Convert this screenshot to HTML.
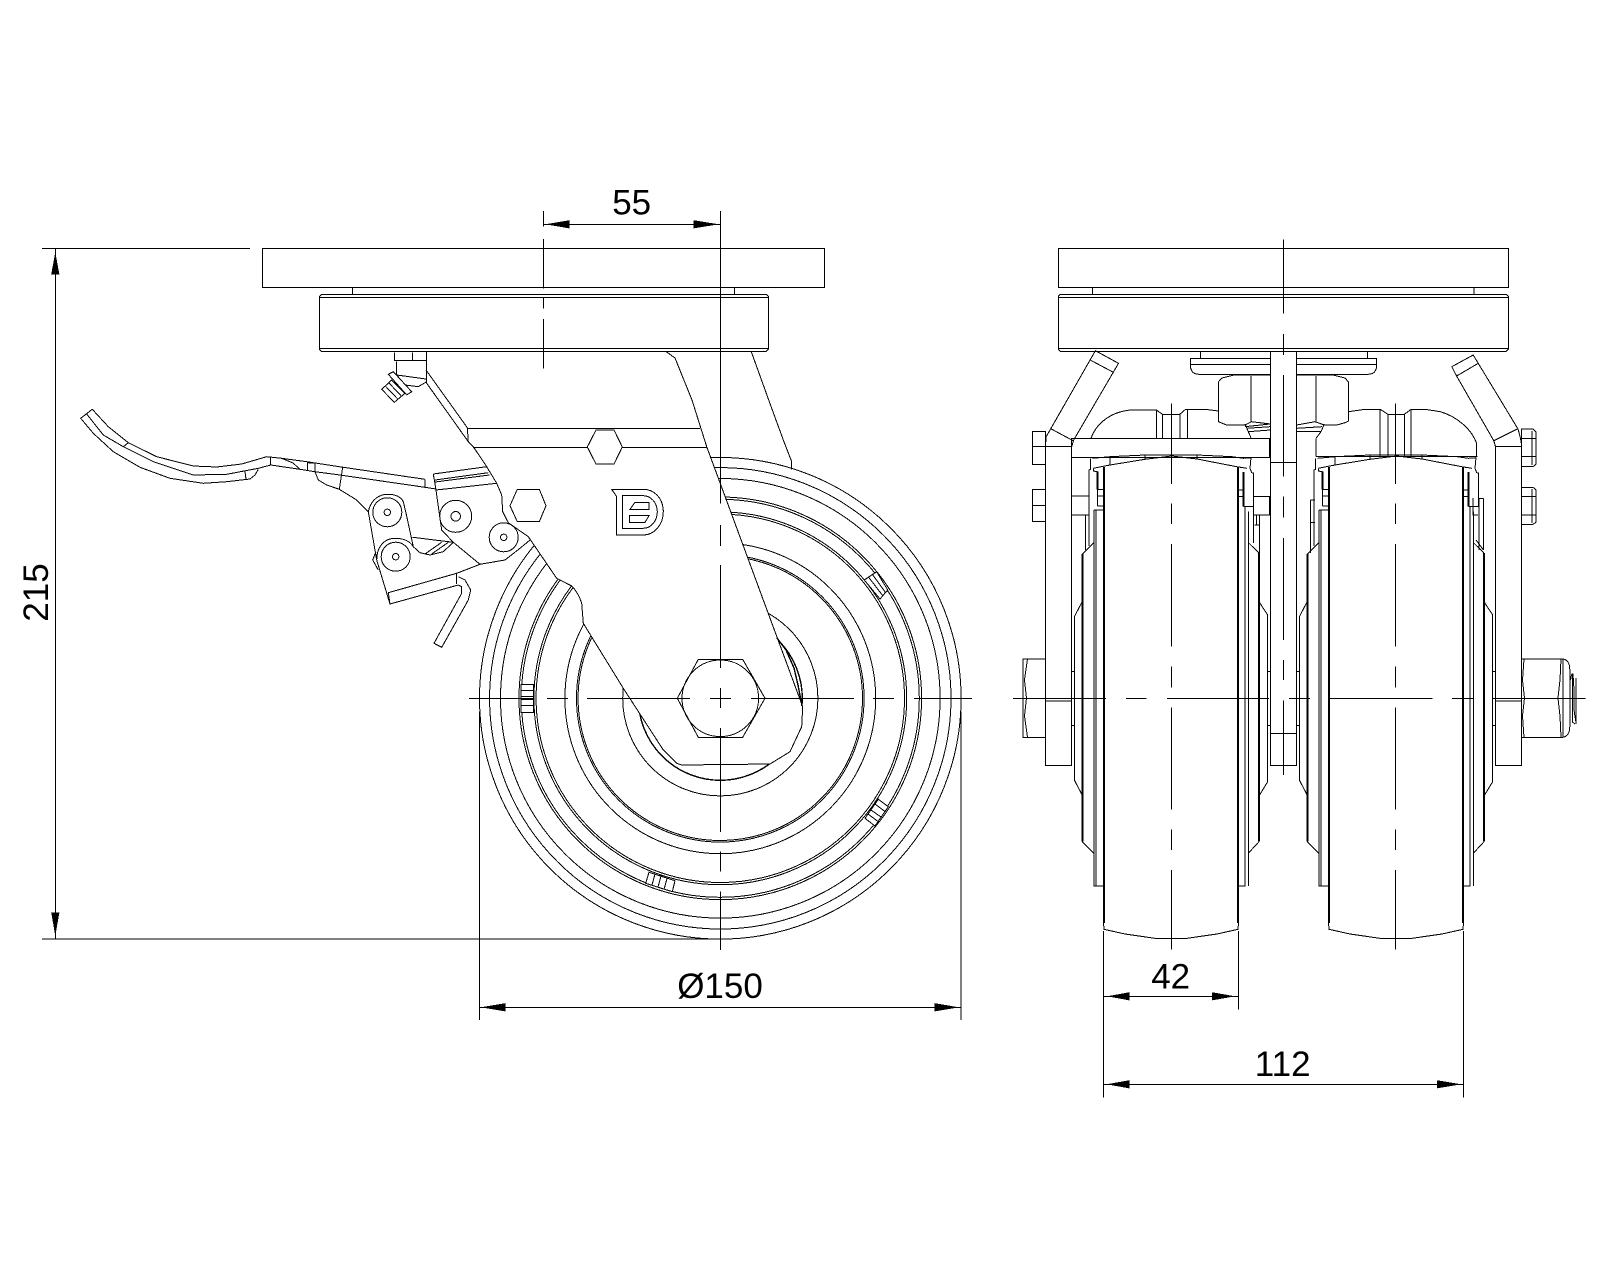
<!DOCTYPE html>
<html lang="en">
<head>
<meta charset="utf-8">
<title>Caster dimension drawing</title>
<style>
html,body{margin:0;padding:0;background:#fff;width:1600px;height:1280px;overflow:hidden}
svg{display:block}
text{font-family:"Liberation Sans",sans-serif;font-size:35px;fill:#000;stroke:none}
</style>
</head>
<body>
<svg width="1600" height="1280" viewBox="0 0 1600 1280" xmlns="http://www.w3.org/2000/svg">
<rect width="1600" height="1280" fill="#fff"/>
<g fill="none" stroke="#000" stroke-width="1" shape-rendering="crispEdges">

<!-- ===== SIDE VIEW: wheel circles ===== -->
<g>
<circle cx="720.3" cy="698.3" r="240.8"/>
<circle cx="720.3" cy="698.3" r="230.7"/>
<circle cx="720.3" cy="698.3" r="219.8"/>
<circle cx="720.3" cy="698.3" r="201.3"/>
<circle cx="720.3" cy="698.3" r="199"/>
<circle cx="720.3" cy="698.3" r="186.4"/>
<circle cx="720.3" cy="698.3" r="184.2"/>
<circle cx="720.3" cy="698.3" r="155.4"/>
<circle cx="720.3" cy="698.3" r="143.8"/>
<circle cx="720.3" cy="698.3" r="142.2"/>
<circle cx="720.3" cy="698.3" r="97.6"/>
<circle cx="720.3" cy="698.3" r="82" stroke-width="1.4"/>
</g>
<!-- tread marks -->
<g fill="#fff">
<path d="M521 684.3H533.3V712.7H521ZM521 690.7H533.3M521 696.7H533.3M521 699.3H533.3M521 705.7H533.3"/>
<path d="M864.3 580L876.7 571.7L887.7 590L880 599ZM868.5 577L883 596M872.5 574.5L885.5 592.5"/>
<path d="M878.3 799.3L888.3 806.7L875 826L865 818.3ZM875 804L885 811.5M871 810L881 817M868 814L878 821.5"/>
<path d="M649 872.3L675 880.7L672.3 891.7L645.7 883.3ZM655 874L652 885M661 876L658 887M667 878.5L664 889.5"/>
</g>

<!-- ===== rear bracket ===== -->
<polyline points="751.3,351.7 768.7,400 783.3,440 791.7,461.7 791.7,469.3"/>

<!-- ===== lever ===== -->
<polyline points="92.3,409.3 108.3,426.7 128.3,442.7 156.7,456.7 193.3,466 216.7,467 241.7,464 266.7,456.7 281.7,458.3 306.7,461.7 343.3,467.3 425,479.3"/>
<polyline points="92.3,409.3 80.7,418.3 93.3,433.3 113.3,451.7 140,467.3 170,478.3 203.3,483.3 226.7,481.7 250,479 255,475 258.3,469.3"/>
<polyline points="86.7,414 103.3,435 123.3,446.7 153.3,461.7 193.3,475 226.7,474.3 258.3,468.3 270.7,465 300,469.3 315,471.7 340,475 425,487.3 436,489"/>
<path d="M123.3 446.7L128.3 442.7M245 471.7L246 479M270.7 456.7V465M425 479.3V487.3M342.7 467.3L339.3 489.3"/>
<polyline points="281.7,458.3 293,463 300,469.3"/>
<polyline points="307.7,470.7 307.7,462.7 315,463.3 315,471.7 318.3,480 326.7,485 339.3,489.3 356.7,500 368.3,511.7"/>

<!-- linkage plates -->
<path d="M368.3 511.7L376.7 560L390 604L458.3 585M388.3 592.7L456.7 573.3L480 564.3L505 560L520 548.3L530 540"/>
<path d="M388.3 592.7L390 604M368.3 511.7C371 499 380 494.3 387.3 494.3C396 494.3 401 497 403.3 501.7L406 513L413.3 546.7"/>
<path d="M376.7 560C376.7 546 385 538.3 395 538.3C403 538.3 410 541 413.3 546.7"/>
<path d="M376 551.7L372.7 560L378.3 570"/>
<circle cx="387.3" cy="512.3" r="14.5"/><circle cx="387.3" cy="512.3" r="3.2"/>
<circle cx="395.7" cy="556.7" r="14.5"/><circle cx="395.7" cy="556.7" r="3.2"/>
<path d="M433.3 474L486.7 466.7M435 480L488.3 472.7M435 482L489.5 475M436 490L496.7 483.3M433.3 474L436 490L441.7 530L453.3 542.3L480 564.3"/>
<circle cx="455.7" cy="516.3" r="16"/><circle cx="455.7" cy="516.3" r="4.8"/>
<circle cx="503.7" cy="537.3" r="14.5"/><circle cx="503.7" cy="537.3" r="3.2"/>
<path d="M412.7 537.3L453.3 542.3M413.3 546.7L420 552.7L430 555L443.3 551.7L453.3 542.3M425 554L441.7 542.3M431.7 554L448.3 542.3"/>
<!-- spring -->
<path d="M456.7 573.3V584M458.3 576.7L465 580L470.7 590L468.3 600L441.7 647.3L434 643.3L461.7 593.3V586.7L458.3 585"/>

<!-- grease nipple -->
<path d="M394.3 352.3V360.7H425.7L431.7 352.3M412.7 352.3V360.7"/>
<path d="M396.7 361.7V375L405 385L418.3 386.7L426.7 381.7V361.7M396.7 375L426 379"/>
<path fill="#fff" d="M381.7 389.3L394.3 402.3L405 393.3L391.7 380Z"/>
<path fill="#fff" d="M388.3 374.3L393.3 371.7L411.7 391.7L406.7 395Z"/>
<path d="M385 385.7L397.7 399M388.3 382.3L401 395.7"/>

<!-- ===== swivel fork (masks wheel) ===== -->
<path fill="#fff" d="M426.7 352L426.7 383.3L468.3 441.7L473.3 446.7L486.7 466.7L496.7 483.3L501.7 495L502.7 511.7L508.3 522.7L528.3 536.7L556.7 578.3L571.7 586Q578 592 581.7 603.3L583.3 623.3L623.3 688.3L663.3 750L676.7 763.3L681.7 765L770 764L790 751.7L801.7 726.7L802.7 706.7L706.7 446.7L692 400L675 358L666.3 351.7"/>
<path d="M426 370L467.3 427.7L468.3 441.7M467.3 428.3H700M473 447.3H706.7"/>
<path d="M777 638L786 650L794 668L798 685L802 706" stroke-width="1.4"/>

<!-- ===== plates side view (drawn over fork top) ===== -->
<rect x="262.5" y="248.3" width="561.9" height="39" fill="#fff"/>
<path d="M352.3 287.3V294.3M734.3 287.3V294.3"/>
<path fill="#fff" d="M321.5 294.3H766.3L768.3 296.3V349.3L766.3 351.3H321.5L319.5 349.3V296.3Z"/>
<path d="M319.5 297.7H768.3M319.5 348.3H768.3"/>

<!-- bolts on fork -->
<polygon fill="#fff" points="587.3,447 596,430 614,430 622.3,447 614,464 596,464"/>
<polygon fill="#fff" points="510,505.7 517.3,489.3 539.3,489.3 546,505.7 539.3,521.7 517.3,521.7"/>

<!-- logo -->
<path d="M611.7 489.3L616.7 496.7V535H643.3C654 535 663.3 525 663.3 511.7C663.3 498 654 489.3 643.3 489.3Z"/>
<path d="M622.3 495.7V528.3H643.3C651 528.3 657.3 521 657.3 511.7C657.3 503 651 495.7 643.3 495.7Z"/>
<path d="M630 509.3L635 502.3H649V509.3ZM629.3 515.7H649L645 522.3H629.3Z"/>

<!-- axle nut -->
<polygon fill="#fff" points="677.3,698.3 698.3,659.3 742.7,659.3 765,698.3 742.7,737.3 698.3,737.3"/>
<circle cx="720.3" cy="698.3" r="38.3"/>

<!-- center lines side view -->
<path d="M720.4 211V503.3M720.4 525V546M720.4 565V668M720.4 688V708M720.4 728V832M720.4 851.7V871.7M720.4 891.7V950"/>
<path d="M469 698.3H534M547 698.3H568M587 698.3H690M710 698.3H731M751 698.3H854M873 698.3H894M914 698.3H972"/>
<path d="M543.3 211V226.7M543.3 239V288.7M543.3 297.7V308.7M543.3 319V368.7" />

<!-- ===== FRONT VIEW ===== -->
<rect x="1058.3" y="248.3" width="450" height="39" fill="#fff"/>
<path d="M1092.6 287.3V294.3M1474.2 287.3V294.3"/>
<path fill="#fff" d="M1060.3 294.3H1506.3L1508.3 296.3V349.3L1506.3 351.3H1060.3L1058.3 349.3V296.3Z"/>
<path d="M1058.3 297.7H1508.3M1058.3 348.3H1508.3"/>
<path d="M1200.4 351.3V358.3M1367.4 351.3V358.3"/>
<path d="M1190.4 358.3H1376.7V366Q1376 374.3 1368 374.3H1199Q1191 374.3 1190.4 366ZM1190.4 364.3H1376.7"/>

<!-- domes -->
<path d="M1091 438.3C1096 424 1110 412 1130.5 410H1156.3L1162.5 414.3H1179.8L1185.6 409.3H1205L1218.3 411"/>
<path d="M1156.3 410V438.3M1162.5 414.3V438.3M1179.8 414.3V438.3M1187.3 409.3V438.3"/>
<path d="M1348.5 411.7L1365 409.3H1380.2L1387.8 414.3H1404.3L1411.2 409.3H1425L1440.4 411.7C1458 417 1472 430 1476.6 443.3V456.7"/>
<path d="M1380.2 409.3V456M1387.8 414.3V456M1404.3 414.3V456M1411.2 409.3V456"/>
<path d="M1316 456.7H1477.3M1316 438.3V456.7"/>

<!-- nuts -->
<path fill="#fff" d="M1270.3 375H1234L1222 378L1218.3 382V421.7L1226.7 425H1245L1251.7 421.7L1270.3 424Z"/>
<path d="M1251 376V421.7"/>
<path fill="#fff" d="M1296.2 375H1333L1345 378L1348.5 382V421L1345 422.7L1336.7 425H1324.3L1315 421.7L1296.7 425H1296.2Z"/>
<path d="M1315.8 376V421.7"/>
<path d="M1245 424L1248.3 431.7L1251 437.7M1245 426.7L1270 424M1246.7 428.3L1270 426.7M1248.3 431.7L1270 430"/>
<path d="M1324.3 424L1321 431.7L1316 438.3M1296.7 428.3L1322 426.7M1296.7 431.7L1321 431.7"/>

<!-- top bar -->
<rect x="1071.7" y="438.3" width="198.3" height="19" fill="#fff"/>
<path d="M1270 438.3V457.3" stroke-width="2"/>

<!-- post -->
<rect x="1270.7" y="351.3" width="25.6" height="414" fill="#fff"/>
<path d="M1270.7 462.3H1296.3M1270.7 733.3H1296.3"/>

<!-- outer arms -->
<path d="M1046.2 436.7L1095.4 350.7L1118.5 363.3L1073.7 440L1071.7 446.7V765.3H1045.4V446.7H1071.7M1045.4 446.7L1046.2 436.7M1090.2 360L1113.3 372.3M1051.3 429L1073.7 441"/>
<path d="M1045.4 701H1071.7"/>
<path d="M1473.2 355L1451.8 366.7L1456.6 376L1493.8 440.7L1495.5 446.7V765.3H1521.7V446.7C1521 438 1519 433 1518 429L1473.2 355ZM1456.6 376L1478.3 363.3M1493.8 440.7L1517.2 429M1495.5 446.7H1521.7"/>
<path d="M1495.3 701H1521.7"/>

<!-- side bolts -->
<path fill="#fff" d="M1032.4 431.3H1045.5V464.3H1032.4ZM1032.4 446.7H1045.5"/>
<path fill="#fff" d="M1032.4 489.3H1045.5V521.7H1032.4ZM1032.4 505.3H1045.5"/>
<path fill="#fff" d="M1521.4 429H1533L1536.2 432V464L1533 466.7H1521.4ZM1521.4 438.3H1536.2M1521.4 456.7H1536.2M1532 431V465"/>
<path fill="#fff" d="M1521.4 487.3H1533L1536.2 490V522L1533 524.3H1521.4ZM1521.4 496.7H1536.2M1521.4 515H1536.2M1532 489V523"/>
<!-- axle head and nut -->
<path fill="#fff" d="M1023.2 659H1045.4V737.3H1023.2Z"/>
<path d="M1027.5 659L1024.5 680L1026.5 698L1024.5 716L1027.5 737.3"/>
<path fill="#fff" d="M1521.7 659H1563Q1569.8 660 1569.8 670V726Q1569.8 736 1563 737.3H1521.7Z"/>
<path d="M1563 659V737.3M1524 659L1522.5 680L1524.5 698L1522.5 716L1524 737.3M1561 659L1560 680L1558 698L1560 716L1561 737.3"/>
<path d="M1570.6 680Q1571.5 672.7 1573 674L1574 690V710L1576.2 724M1572.5 674V722L1575 724M1576.2 678V722"/>

<!-- wheel pair -->
<g id="wheel">
  <path d="M1103.8 467V923M1237.8 467V923" stroke-width="2"/>
  <polyline points="1103.5,923 1104,929.3 1125,934 1155,938.3 1187,938.3 1217,934 1238,929.3 1238.5,923"/>
  <!-- flange top -->
  <path d="M1092.3 458.3L1110 456.7L1145 455H1197L1232 456.7L1243.3 458.3L1251 457.7"/>
  <path d="M1093.3 468.3L1110 465L1145 459.3L1171.7 456L1197 459L1236.7 466.7L1247 468.3"/>
  <path d="M1110 456.7V465M1145 455V459.3M1197 455V459"/>
  <!-- left flange and rail -->
  <path d="M1090.7 458.3V469.3L1089 470V546M1085.7 515V550M1093.3 468.3V471L1097.3 471.7"/>
  <path d="M1097.3 471.7V489.3" stroke-width="2"/>
  <path d="M1097.3 489.3V506M1097.3 489.3H1103.8M1097.3 496H1103.8M1097.3 506H1103.8M1094 510H1103.8"/>
  <path d="M1094 510V886H1103.8M1096 510V886"/>
  <path d="M1082.3 554V841.7" stroke-width="2"/>
  <path d="M1094 542.7L1082.3 554M1074.7 616V780.7L1082.2 795M1074.7 616L1082.2 601.7M1082.2 841.7L1094 853.3"/>
  <!-- right flange and rail -->
  <path d="M1251 457.7L1250 468.3L1251.7 472.7L1253.3 473V506.7"/>
  <path d="M1243.3 472V506.7" stroke-width="2"/>
  <path d="M1237.8 490H1243.3M1237.8 496.7H1243.3M1243.3 506.7H1253.3M1245 506.7V886H1238M1248.3 511.7V853.3"/>
  <path d="M1248.3 853.3V886"/>
  <path d="M1259 553V841.7" stroke-width="2"/>
  <path d="M1248.3 853.3L1259 841.7M1249 543.3L1259 553M1259 601.7L1267.7 615V781.7L1259 796"/>
</g>
<use href="#wheel" x="225"/>
<!-- axle connectors -->
<path d="M1071.7 671.7H1074.7M1071.7 725.7H1074.7M1267.7 671.7H1270.7M1267.7 725.7H1270.7M1296.3 671.7H1299.7M1296.3 725.7H1299.7M1492.7 671.7H1495.3M1492.7 725.7H1495.3"/>
<!-- bands specific to each side -->
<path d="M1071.7 496H1089M1071.7 515H1089"/>
<path d="M1253.3 496.7H1270M1253.3 515H1270M1253.3 506.7V543M1256.7 515V525M1259.3 515V553M1254.5 525H1259.3"/>
<path d="M1270 496.7V515" stroke-width="2"/>
<path d="M1310.3 500V553M1310.3 500H1315M1310.3 522.7H1315"/>
<path d="M1483.5 498.3V550M1479 498.3V550M1479 498.3H1483.5M1483.5 550L1476 540M1473 498V515H1478"/>

<!-- center lines front view -->
<path d="M1283.4 239.3V313.3M1283.4 334V355M1283.4 375V476.7M1283.4 496.7V517.3M1283.4 538V640M1283.4 660V680M1283.4 700.7V775"/>
<path d="M1171.5 403.3V484M1171.5 503.3V524M1171.5 544V646.7M1171.5 666.7V687.3M1171.5 707.7V809.3M1171.5 829.3V850M1171.5 870V949.3"/>
<path d="M1395.3 403.3V484M1395.3 503.3V524M1395.3 544V646.7M1395.3 666.7V687.3M1395.3 707.7V809.3M1395.3 829.3V850M1395.3 870V949.3"/>
<path d="M1013 698.3H1106M1125.9 698.3H1146.6M1166.9 698.3H1268.8M1289.2 698.3H1309.9M1329 698.3H1432.5M1452 698.3H1473.5M1492.7 698.3H1585.6"/>

<!-- ===== DIMENSIONS ===== -->
<!-- 55 -->
<path d="M543.3 224.3H720.4"/>
<polygon fill="#000" points="548.4,224.3 569,220.8 569,227.8"/>
<polygon fill="#000" points="715.7,224.3 694,220.8 694,227.8"/>
<!-- 215 -->
<path d="M42 248.3H250M55.3 248.3V939M42 939H708.3"/>
<polygon fill="#000" points="55.3,255 51.8,274 58.8,274"/>
<polygon fill="#000" points="55.3,933 51.8,913 58.8,913"/>
<!-- dia 150 -->
<path d="M479.3 711.7V1020M961 711.7V1020M479.3 1007.3H961"/>
<polygon fill="#000" points="484,1007.3 505,1003.8 505,1010.8"/>
<polygon fill="#000" points="956,1007.3 935,1003.8 935,1010.8"/>
<!-- 42 -->
<path d="M1103.3 931V1097.7M1238.3 931V1009.3M1103.3 996.3H1238.3"/>
<polygon fill="#000" points="1110,996.3 1129,992.8 1129,999.8"/>
<polygon fill="#000" points="1232.3,996.3 1212.3,992.8 1212.3,999.8"/>
<!-- 112 -->
<path d="M1463.3 931V1097.7M1103.3 1084.3H1463.3"/>
<polygon fill="#000" points="1109.3,1084.3 1129,1080.8 1129,1087.8"/>
<polygon fill="#000" points="1458.3,1084.3 1437.3,1080.8 1437.3,1087.8"/>
</g>

<text x="631.7" y="214.3" text-anchor="middle">55</text>
<text x="720" y="998" text-anchor="middle">Ø150</text>
<text x="1170.7" y="988.3" text-anchor="middle">42</text>
<text x="1282.7" y="1076" text-anchor="middle">112</text>
<text transform="translate(48 592.5) rotate(-90)" text-anchor="middle">215</text>
</svg>
</body>
</html>
